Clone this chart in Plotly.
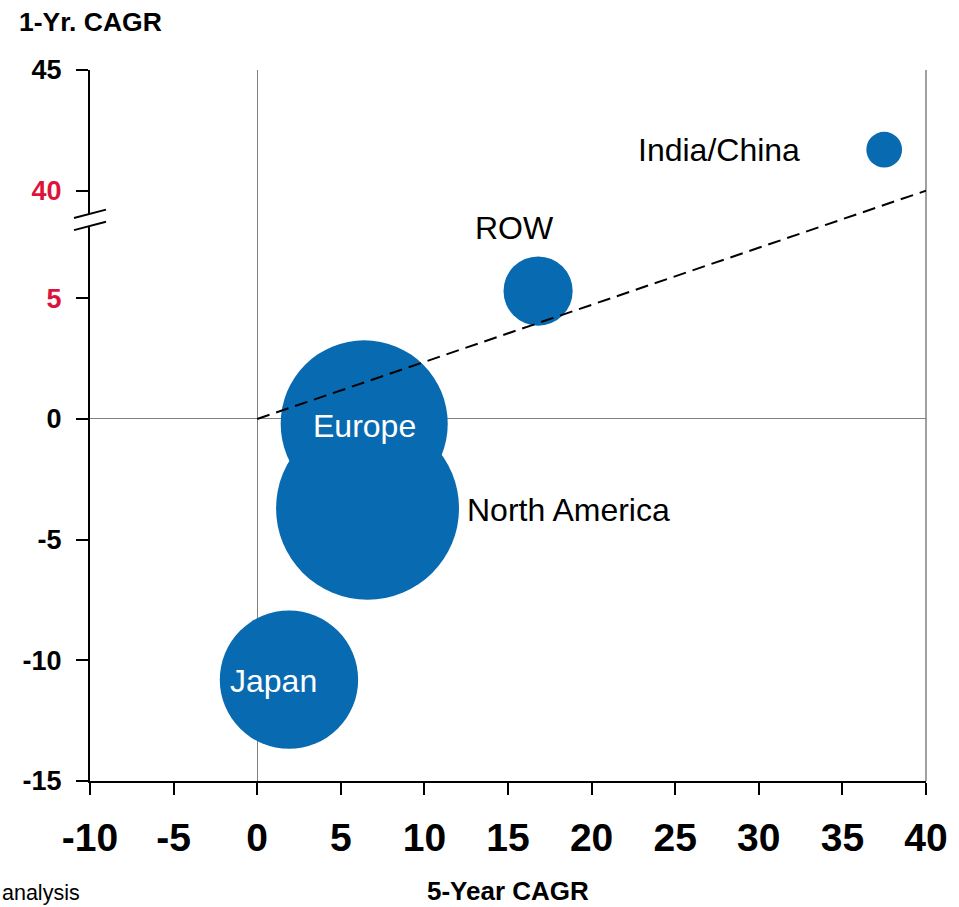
import plotly.graph_objects as go

# Regional growth: 5-year CAGR vs 1-year CAGR, bubble area = relative market size
regions = ["India/China", "ROW", "Europe", "North America", "Japan"]
cagr_5yr = [37.5, 16.8, 6.4, 6.6, 1.9]
cagr_1yr = [41.7, 5.3, -0.2, -3.7, -10.8]
market_size = [3.2, 12, 70, 84, 48]

# Reference trend line (1-yr = 5-yr), from origin to the right edge
trend_x = [0, 40]
trend_y = [0, 40]

x_ticks = [-10, -5, 0, 5, 10, 15, 20, 25, 30, 35, 40]
y_ticks = [-15, -10, -5, 0, 5, 40, 45]
y_tick_colors = ["#000000", "#000000", "#000000", "#000000", "#DC143C", "#DC143C", "#000000"]

# Broken y-axis: values above the break are shifted down onto the lower scale
UPPER_SHIFT = 30.54
BREAK_AT = 20


def to_display(v):
    return v - UPPER_SHIFT if v > BREAK_AT else v


Y_MIN = -15
Y_MAX = to_display(45)

BLUE = "#086AB0"
FONT = "Arial, 'Liberation Sans', sans-serif"

fig = go.Figure()

# bubbles
fig.add_trace(go.Scatter(
    x=cagr_5yr,
    y=[to_display(v) for v in cagr_1yr],
    mode="markers",
    marker=dict(
        size=market_size,
        sizemode="area",
        sizeref=2 * 84 / 183 ** 2,
        color=BLUE,
        opacity=1,
        line=dict(width=0),
    ),
    hoverinfo="skip",
    showlegend=False,
))

# dashed trend line drawn over the bubbles
fig.add_trace(go.Scatter(
    x=trend_x,
    y=[to_display(v) for v in trend_y],
    mode="lines",
    line=dict(color="black", width=2, dash="13px,7px"),
    hoverinfo="skip",
    showlegend=False,
))

# bubble labels: (region index, text colour, x shift, y shift, anchor)
label_specs = [
    (0, "black", -82, 0, "right"),
    (1, "black", -24, 63, "center"),
    (2, "white", 0, -2, "center"),
    (3, "black", 97, -2, "left"),
    (4, "white", -15, -1, "center"),
]
for i, col, dx, dy, anchor in label_specs:
    fig.add_annotation(
        x=cagr_5yr[i], y=to_display(cagr_1yr[i]),
        xref="x", yref="y",
        text=regions[i], showarrow=False,
        font=dict(family=FONT, size=32, color=col),
        xanchor=anchor, yanchor="middle",
        xshift=dx, yshift=dy,
    )

ticktext = [
    f"<span style='color:{c}'>{v}</span>" for v, c in zip(y_ticks, y_tick_colors)
]

fig.update_xaxes(
    range=[-10, 40],
    tickvals=x_ticks,
    ticktext=[str(v) for v in x_ticks],
    tickfont=dict(family=FONT, size=39, color="black", weight="bold"),
    showgrid=False,
    zeroline=True, zerolinecolor="#808080", zerolinewidth=1.2,
    showline=True, linecolor="black", linewidth=2,
    ticks="outside", ticklen=12, tickwidth=2, tickcolor="black",
    ticklabelstandoff=9,
    fixedrange=True,
)
fig.update_yaxes(
    range=[Y_MIN, Y_MAX],
    tickvals=[to_display(v) for v in y_ticks],
    ticktext=ticktext,
    tickfont=dict(family=FONT, size=27, color="black", weight="bold"),
    showgrid=False,
    zeroline=True, zerolinecolor="#808080", zerolinewidth=1.2,
    showline=True, linecolor="black", linewidth=2,
    ticks="outside", ticklen=12, tickwidth=2, tickcolor="black",
    ticklabelstandoff=9,
    fixedrange=True,
)

# right-hand frame line
shapes = [dict(
    type="line", xref="paper", yref="paper", x0=1, x1=1, y0=0, y1=1,
    line=dict(color="#808080", width=1.5), layer="below",
)]

# axis-break marker: gap in the axis line plus two slanted strokes
brk_lo = (8.0 - Y_MIN) / (Y_MAX - Y_MIN)
brk_hi = (8.5 - Y_MIN) / (Y_MAX - Y_MIN)
shapes.append(dict(
    type="rect", xref="paper", yref="paper", xsizemode="pixel", xanchor=0,
    x0=-3, x1=3, y0=brk_lo, y1=brk_hi,
    fillcolor="white", line=dict(width=0), layer="above",
))
for yc in (brk_lo, brk_hi):
    shapes.append(dict(
        type="line", xref="paper", yref="paper",
        xsizemode="pixel", xanchor=0, ysizemode="pixel", yanchor=yc,
        x0=-16, x1=16, y0=-4.2, y1=4.2,
        line=dict(color="black", width=2), layer="above",
    ))

fig.update_layout(shapes=shapes)

# axis titles and source note
fig.add_annotation(
    text="<b>1-Yr. CAGR</b>", xref="paper", yref="paper",
    x=-73 / 835.7, y=1, yshift=70 - 5, xanchor="left", yanchor="top",
    showarrow=False, font=dict(family=FONT, size=26.5, color="black"),
)
fig.add_annotation(
    text="<b>5-Year CAGR</b>", xref="paper", yref="paper",
    x=0.5, y=0, yshift=-93, xanchor="center", yanchor="top",
    showarrow=False, font=dict(family=FONT, size=26, color="black"),
)
fig.add_annotation(
    text="analysis", xref="paper", yref="paper",
    x=-90 / 835.7, y=0, yshift=-98, xanchor="left", yanchor="top",
    showarrow=False, font=dict(family=FONT, size=21.5, color="black"),
)

fig.update_layout(
    width=959, height=907,
    margin=dict(l=90, r=33.3, t=70.2, b=126.3, pad=0),
    paper_bgcolor="white", plot_bgcolor="white",
    showlegend=False,
)

fig.write_html("out.html")
